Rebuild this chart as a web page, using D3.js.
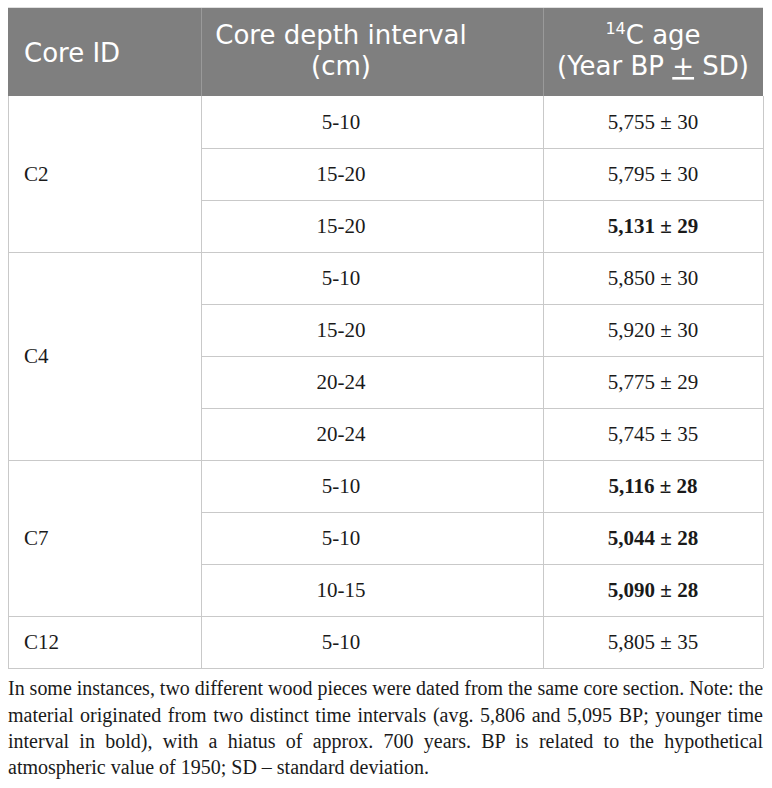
<!DOCTYPE html>
<html>
<head>
<meta charset="utf-8">
<script src="https://cdn.jsdelivr.net/npm/d3@7"></script>
<style>
  html, body { margin: 0; padding: 0; background: #fff; }
  svg { display: block; }
</style>
</head>
<body>
<svg id="chart" width="772" height="788"></svg>
<script>
// ---- data ----
const coreIds = ["C2","C2","C2","C4","C4","C4","C4","C7","C7","C7","C12"];
const depths  = ["5-10","15-20","15-20","5-10","15-20","20-24","20-24","5-10","5-10","10-15","5-10"];
const ages    = [5755, 5795, 5131, 5850, 5920, 5775, 5745, 5116, 5044, 5090, 5805];
const sds     = [30, 30, 29, 30, 30, 29, 35, 28, 28, 28, 35];
const younger = [false,false,true,false,false,false,false,true,true,true,false];
const headers = ["Core ID", ["Core depth interval", "(cm)"], ["14C age", "(Year BP + SD)"]];
const captionLines = [
  "In some instances, two different wood pieces were dated from the same core section. Note: the",
  "material originated from two distinct time intervals (avg. 5,806 and 5,095 BP; younger time",
  "interval in bold), with a hiatus of approx. 700 years. BP is related to the hypothetical",
  "atmospheric value of 1950; SD \u2013 standard deviation."
];

// ---- layout ----
const svg = d3.select("#chart");
const colEdges = [8, 201, 543, 763];
const headTop = 8, headBottom = 96, tableBottom = 668;
const serif = "'Liberation Serif','Times New Roman',serif";
const sans = "'DejaVu Sans','Open Sans',sans-serif";
const gridColor = "#c9c9c9";
const fmt = d3.format(",");

const y = d3.scaleBand().domain(d3.range(ages.length)).range([headBottom, tableBottom]);

// header background
svg.append("rect").attr("x", colEdges[0]).attr("y", headTop)
  .attr("width", colEdges[3] - colEdges[0]).attr("height", headBottom - headTop)
  .attr("fill", "#7f7f7f");
// header dividers
[colEdges[1], colEdges[2]].forEach(x => {
  svg.append("line").attr("x1", x + 0.5).attr("x2", x + 0.5)
    .attr("y1", headTop).attr("y2", headBottom).attr("stroke", "#9a9a9a").attr("stroke-width", 1);
});

// header text
const hdr = svg.append("g").attr("fill", "#fff").attr("font-family", sans).attr("font-size", 26);
hdr.append("text").attr("x", 24).attr("y", 62).text(headers[0]);
const c2x = 341;
const h2 = hdr.append("text").attr("x", c2x).attr("y", 44).attr("text-anchor", "middle");
h2.append("tspan").attr("x", c2x).text(headers[1][0]);
h2.append("tspan").attr("x", c2x).attr("dy", 31).text(headers[1][1]);
const c3x = 653;
const h3 = hdr.append("text").attr("x", c3x).attr("y", 44).attr("text-anchor", "middle");
h3.append("tspan").attr("font-size", 16).attr("dy", -10).text(headers[2][0].slice(0, 2));
h3.append("tspan").attr("dy", 10).text(headers[2][0].slice(2));
const parts = headers[2][1].split("+");
h3.append("tspan").attr("x", c3x).attr("dy", 31).text(parts[0]);
h3.append("tspan").style("text-decoration", "underline").text("+");
h3.append("tspan").text(parts[1]);

// body grid
const grid = svg.append("g").attr("stroke", gridColor).attr("stroke-width", 1).attr("fill", "none");
[colEdges[0], colEdges[3]].forEach(x => {
  grid.append("line").attr("x1", x + 0.5).attr("x2", x + 0.5).attr("y1", headBottom).attr("y2", tableBottom);
});
grid.append("line").attr("x1", colEdges[0]).attr("x2", colEdges[3]).attr("y1", headTop - 0.5).attr("y2", headTop - 0.5).attr("stroke", "#e0e0e0");
[colEdges[1], colEdges[2]].forEach(x => {
  grid.append("line").attr("x1", x + 0.5).attr("x2", x + 0.5).attr("y1", headBottom).attr("y2", tableBottom);
});
d3.range(1, ages.length + 1).forEach(i => {
  const yy = i < ages.length ? y(i) : tableBottom;
  const startNewGroup = i === ages.length || coreIds[i] !== coreIds[i - 1];
  grid.append("line")
    .attr("x1", startNewGroup ? colEdges[0] : colEdges[1]).attr("x2", colEdges[3])
    .attr("y1", yy + 0.5).attr("y2", yy + 0.5);
});

// group labels
const groups = d3.groups(d3.range(ages.length), i => coreIds[i]);
const body = svg.append("g").attr("font-family", serif).attr("font-size", 21).attr("fill", "#1a1a1a");
groups.forEach(([id, idx]) => {
  const top = y(idx[0]), bot = y(idx[idx.length - 1]) + y.bandwidth();
  body.append("text").attr("x", 24).attr("y", (top + bot) / 2 + 7).text(id);
});

// cells
body.selectAll("text.depth").data(d3.range(ages.length)).join("text")
  .attr("class", "depth")
  .attr("x", c2x).attr("y", i => y(i) + y.bandwidth() / 2 + 7)
  .attr("text-anchor", "middle").text(i => depths[i]);
body.selectAll("text.age").data(d3.range(ages.length)).join("text")
  .attr("class", "age")
  .attr("x", c3x).attr("y", i => y(i) + y.bandwidth() / 2 + 7)
  .attr("text-anchor", "middle")
  .attr("font-weight", i => younger[i] ? "bold" : "normal")
  .text(i => fmt(ages[i]) + " \u00b1 " + sds[i]);

// caption (justified)
const capBaselines = [695, 722, 748, 774];
const capW = colEdges[3] - colEdges[0];
const cap = svg.append("g").attr("font-family", serif).attr("font-size", 20).attr("fill", "#1a1a1a");
captionLines.forEach((line, k) => {
  const t = cap.append("text").attr("x", colEdges[0]).attr("y", capBaselines[k]).text(line);
  if (k < captionLines.length - 1) {
    const w = t.node().getComputedTextLength();
    const nSp = (line.match(/ /g) || []).length;
    if (w < capW) {
      t.attr("word-spacing", (capW - w) / nSp);
    } else {
      t.attr("textLength", capW).attr("lengthAdjust", "spacingAndGlyphs");
    }
  }
});
</script>
</body>
</html>
